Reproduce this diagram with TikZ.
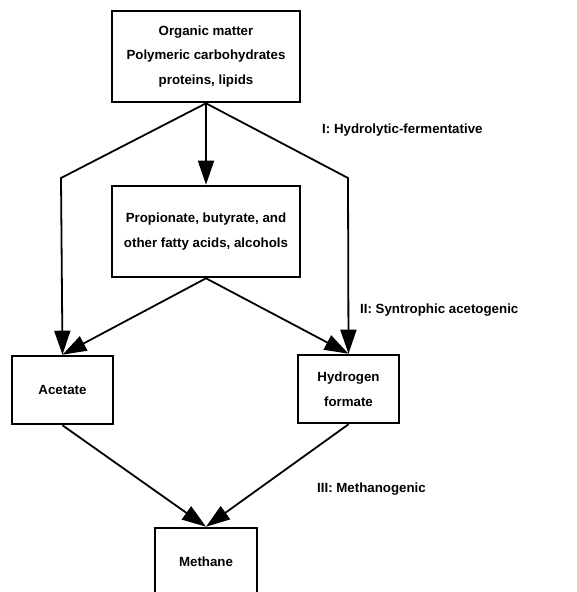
\documentclass[tikz,border=0pt]{standalone}
\usepackage{fontspec}
\setmainfont{Liberation Sans}
\usetikzlibrary{arrows.meta}

\begin{document}
\begin{tikzpicture}[x=1pt,y=-1pt,>={Triangle[length=24pt,width=16pt]}]
						\tikzstyle{stage}=[draw=black,line width=2.6pt,inner sep=0pt,align=center,font=\bfseries\fontsize{13.3}{24.5}\selectfont]
						\tikzstyle{phase}=[anchor=west,inner sep=0pt,font=\bfseries\fontsize{13.3}{15}\selectfont]
						\tikzstyle{flow}=[line width=1.8pt]
						\useasboundingbox (0,0) rectangle (577,592);
						\node[stage,minimum width=188pt,minimum height=91pt](organic) at (206,56.5) {Organic matter\\Polymeric carbohydrates\\proteins, lipids};
						\node[stage,minimum width=188pt,minimum height=91pt](fatty) at (206,231.5) {Propionate, butyrate, and\\other fatty acids, alcohols};
						\node[stage,minimum width=101pt,minimum height=68pt](acetate) at (62.5,390) {Acetate};
						\node[stage,minimum width=101pt,minimum height=68pt](hydrogen) at (348.5,389) {Hydrogen\\formate};
						\node[stage,minimum width=102pt,minimum height=68pt](methane) at (206,562) {Methane};
						\coordinate(lbend) at (61,178);
						\coordinate(rbend) at (348,178);
						\draw[flow,->](organic.south) -- (fatty.north);
						\draw[flow,->](organic.south) -- (lbend) -- (acetate.north);
						\draw[flow,->](organic.south) -- (rbend) -- (hydrogen.north);
						\draw[flow,->](fatty.south) -- (acetate.north);
						\draw[flow,->](fatty.south) -- (hydrogen.north);
						\draw[flow,->](acetate.south) -- (methane.north);
						\draw[flow,->](hydrogen.south) -- (methane.north);
						\node[phase](p1) at (322,130) {I: Hydrolytic-fermentative};
						\node[phase](p2) at (360,310) {II: Syntrophic acetogenic};
						\node[phase](p3) at (317,489) {III: Methanogenic};
					\end{tikzpicture}
\end{document}
